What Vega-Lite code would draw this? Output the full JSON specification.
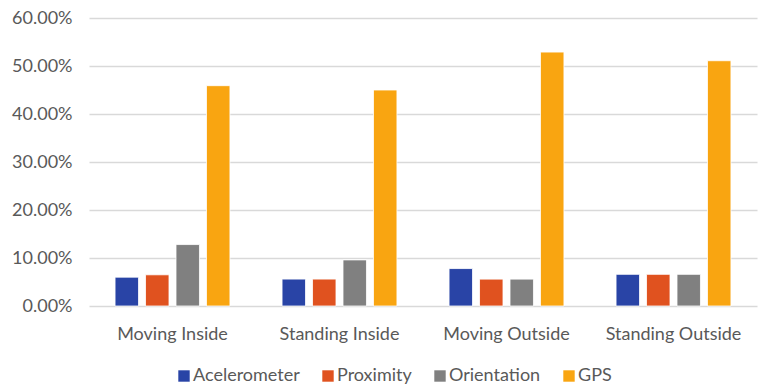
{
  "$schema": "https://vega.github.io/schema/vega-lite/v6.json",
  "width": 668,
  "height": 288,
  "autosize": {"type": "none"},
  "padding": {"left": 89, "top": 18, "right": 1, "bottom": 79},
  "background": "white",
  "config": {
    "view": {"stroke": null},
    "font": "Lato"
  },
  "data": {
    "values": [
      {"scenario": "Moving Inside", "sensor": "Acelerometer", "share": 0.060},
      {"scenario": "Moving Inside", "sensor": "Proximity", "share": 0.065},
      {"scenario": "Moving Inside", "sensor": "Orientation", "share": 0.128},
      {"scenario": "Moving Inside", "sensor": "GPS", "share": 0.459},
      {"scenario": "Standing Inside", "sensor": "Acelerometer", "share": 0.056},
      {"scenario": "Standing Inside", "sensor": "Proximity", "share": 0.056},
      {"scenario": "Standing Inside", "sensor": "Orientation", "share": 0.096},
      {"scenario": "Standing Inside", "sensor": "GPS", "share": 0.450},
      {"scenario": "Moving Outside", "sensor": "Acelerometer", "share": 0.078},
      {"scenario": "Moving Outside", "sensor": "Proximity", "share": 0.056},
      {"scenario": "Moving Outside", "sensor": "Orientation", "share": 0.056},
      {"scenario": "Moving Outside", "sensor": "GPS", "share": 0.529},
      {"scenario": "Standing Outside", "sensor": "Acelerometer", "share": 0.066},
      {"scenario": "Standing Outside", "sensor": "Proximity", "share": 0.066},
      {"scenario": "Standing Outside", "sensor": "Orientation", "share": 0.066},
      {"scenario": "Standing Outside", "sensor": "GPS", "share": 0.511}
    ]
  },
  "mark": {"type": "bar", "stroke": "white", "strokeWidth": 0.8},
  "encoding": {
    "x": {
      "field": "scenario",
      "type": "nominal",
      "sort": ["Moving Inside", "Standing Inside", "Moving Outside", "Standing Outside"],
      "scale": {"paddingInner": 0.27, "paddingOuter": 0.135},
      "axis": {
        "title": null,
        "labelAngle": 0,
        "labelFontSize": 18,
        "labelColor": "#595959",
        "labelPadding": 19,
        "domain": false,
        "ticks": false
      }
    },
    "xOffset": {
      "field": "sensor",
      "type": "nominal",
      "sort": ["Acelerometer", "Proximity", "Orientation", "GPS"],
      "scale": {"paddingInner": 0.23, "paddingOuter": 0.115}
    },
    "y": {
      "field": "share",
      "type": "quantitative",
      "scale": {"domain": [0, 0.6]},
      "axis": {
        "title": null,
        "format": ".2%",
        "values": [0, 0.1, 0.2, 0.3, 0.4, 0.5, 0.6],
        "labelFontSize": 18,
        "labelColor": "#595959",
        "labelPadding": 17,
        "domain": false,
        "ticks": false,
        "gridColor": "#d9d9d9",
        "gridWidth": 1.5
      }
    },
    "color": {
      "field": "sensor",
      "type": "nominal",
      "sort": ["Acelerometer", "Proximity", "Orientation", "GPS"],
      "scale": {
        "domain": ["Acelerometer", "Proximity", "Orientation", "GPS"],
        "range": ["#2944a6", "#e0521f", "#808080", "#f9a511"]
      },
      "legend": {
        "title": null,
        "orient": "none",
        "direction": "horizontal",
        "legendX": 86,
        "legendY": 349,
        "symbolType": "square",
        "symbolSize": 130,
        "symbolStrokeWidth": 0,
        "labelFontSize": 18,
        "labelColor": "#595959",
        "labelOffset": 0,
        "columnPadding": 19
      }
    }
  }
}
